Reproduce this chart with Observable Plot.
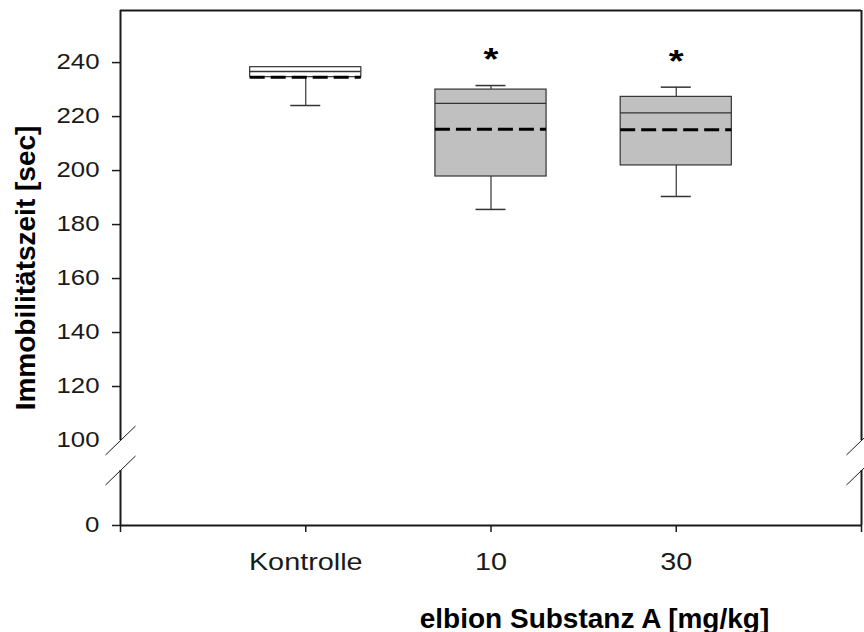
<!DOCTYPE html>
<html>
<head>
<meta charset="utf-8">
<script src="https://cdn.jsdelivr.net/npm/d3@7"></script>
<script src="https://cdn.jsdelivr.net/npm/@observablehq/plot@0.6"></script>
<style>
  html, body { margin: 0; padding: 0; background: white; }
  #chart svg { display: block; }
</style>
</head>
<body>
<div id="chart"></div>
<script>
// ---- data ----
const groups      = ["Kontrolle", "10", "30"];
const q1          = [234.6, 197.8, 201.9];
const median      = [236.7, 224.9, 221.4];
const q3          = [238.3, 230.0, 227.3];
const mean        = [234.6, 215.3, 215.1];
const whiskerLow  = [224.1, 185.6, 190.4];
const whiskerHigh = [238.3, 231.5, 230.9];
const significance = ["", "*", "*"];
const starValue   = [null, 244.4, 243.4];
const yTicks      = [0, 120, 140, 160, 180, 200, 220, 240];
const yBreakLabel = [100];
const xTicks      = [0, 1, 2, 3, 4];
const breakLow = 20, breakHigh = 100, yTop = 259.3;
const yTitle = "Immobilitätszeit [sec]";
const xTitle = "elbion Substanz A [mg/kg]";

const data = groups.map((g, i) => ({
  group: g, pos: i + 1, q1: q1[i], median: median[i], q3: q3[i], mean: mean[i],
  lo: whiskerLow[i], hi: whiskerHigh[i], sig: significance[i], star: starValue[i]
}));
const breaks = [0, 4].flatMap(x => [breakHigh, breakLow].map(y => ({x, y})));

const halfBox = 0.3, halfCap = 0.081;
const ink = "#1a1a1a";
const slash = {draw(context) { context.moveTo(-15, 14.5); context.lineTo(15, -14.5); }};

const plot = Plot.plot({
  width: 864, height: 632,
  marginLeft: 120, marginRight: 3, marginTop: 10, marginBottom: 107,
  style: {fontFamily: "'Liberation Sans', Arial, sans-serif", background: "white", color: ink},
  x: {type: "linear", domain: [0, 4], range: [120, 861], axis: null},
  y: {type: "linear", domain: [0, breakLow, breakHigh, yTop], range: [525, 470, 440, 10], axis: null},
  color: {type: "identity"},
  marks: [
    // frame (broken on left and right)
    Plot.ruleY([yTop], {x1: () => 0, x2: () => 4, stroke: ink, strokeWidth: 2}),
    Plot.ruleX([0, 4], {y1: () => breakHigh, y2: () => yTop, stroke: ink, strokeWidth: 2}),
    Plot.ruleX([0, 4], {y1: () => 0, y2: () => breakLow, stroke: ink, strokeWidth: 2}),
    Plot.ruleY([0], {x1: () => 0, x2: () => 4, stroke: ink, strokeWidth: 2}),
    Plot.dot(breaks, {x: "x", y: "y", symbol: slash, r: 10, stroke: ink, strokeWidth: 1, fill: "none"}),
    // axes
    Plot.axisY({ticks: yTicks, tickSize: 8, tickPadding: 13, fontSize: 21.5, tickFormat: d => String(d), label: null, stroke: ink, strokeWidth: 1.5}),
    Plot.axisY({ticks: yBreakLabel, tickSize: 0, tickPadding: 21, fontSize: 21.5, tickFormat: d => String(d), label: null}),
    Plot.axisX({ticks: xTicks, tickSize: 7, tickPadding: 20, fontSize: 24, tickFormat: d => groups[d - 1] ?? "", label: null, stroke: ink, strokeWidth: 1.5}),
    // whiskers
    Plot.ruleX(data, {x: "pos", y1: "q3", y2: "hi", stroke: "#333", strokeWidth: 1.2}),
    Plot.ruleX(data, {x: "pos", y1: "lo", y2: "q1", stroke: "#333", strokeWidth: 1.2}),
    Plot.ruleY(data, {y: "hi", x1: d => d.pos - halfCap, x2: d => d.pos + halfCap, stroke: "#333", strokeWidth: 1.5}),
    Plot.ruleY(data, {y: "lo", x1: d => d.pos - halfCap, x2: d => d.pos + halfCap, stroke: "#333", strokeWidth: 1.5}),
    // boxes
    Plot.rect(data, {x1: d => d.pos - halfBox, x2: d => d.pos + halfBox, y1: "q1", y2: "q3",
      fill: d => d.group === "Kontrolle" ? "white" : "#c0c0c0", stroke: "#333", strokeWidth: 1.2}),
    Plot.ruleY(data, {y: "median", x1: d => d.pos - halfBox, x2: d => d.pos + halfBox, stroke: "#333", strokeWidth: 1.3}),
    Plot.ruleY(data, {y: "mean", x1: d => d.pos - halfBox, x2: d => d.pos + halfBox, stroke: "black", strokeWidth: 3, strokeDasharray: "15,6"}),
    // significance stars
    Plot.text(data.filter(d => d.sig), {x: "pos", y: "star", text: "sig", fontSize: 32, fontWeight: "bold", lineAnchor: "bottom", dy: 19, fill: "black"}),
    // axis titles
    Plot.text([yTitle], {frameAnchor: "left", textAnchor: "middle", rotate: -90, dx: -94, fontSize: 28, fontWeight: "bold", fill: "black"}),
    Plot.text([xTitle], {frameAnchor: "bottom", textAnchor: "middle", dx: 103.5, dy: 102, lineAnchor: "bottom", fontSize: 28, fontWeight: "bold", fill: "black"})
  ]
});
document.getElementById("chart").appendChild(plot);

// the reference's glyphs are slightly wide: stretch tick labels and stars horizontally
d3.select(plot).selectAll("text").each(function() {
  const t = this.textContent;
  const isTick = this.parentNode.getAttribute("aria-label")?.endsWith("tick label");
  if (isTick || t === "*") {
    const len = this.getComputedTextLength();
    if (len > 0) {
      this.setAttribute("textLength", (len * 1.2).toFixed(1));
      this.setAttribute("lengthAdjust", "spacingAndGlyphs");
    }
  }
});
</script>
</body>
</html>
